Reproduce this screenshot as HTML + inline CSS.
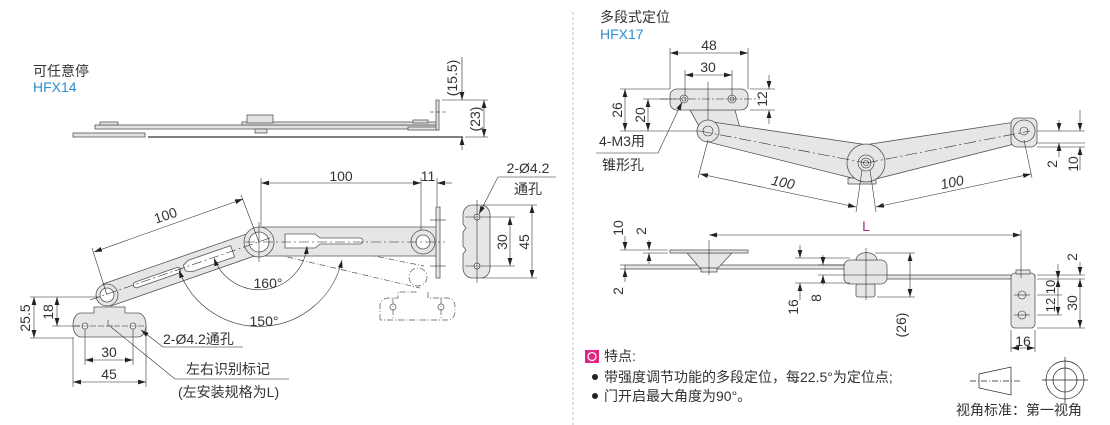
<!DOCTYPE html>
<html><head><meta charset="utf-8"><style>
html,body{margin:0;padding:0;background:#fff;}
svg{display:block;}
text{font-family:"Liberation Sans","Noto Sans CJK SC",sans-serif;fill:#333;}
</style></head><body>
<svg width="1110" height="425" viewBox="0 0 1110 425" xmlns="http://www.w3.org/2000/svg">
<defs>
<marker id="a" viewBox="0 0 10 6" refX="10" refY="3" markerWidth="8" markerHeight="5" orient="auto-start-reverse" markerUnits="userSpaceOnUse"><path d="M0,0L10,3L0,6z" fill="#222"/></marker>
</defs>
<line x1="573" y1="12" x2="573" y2="425" stroke="#aaa" stroke-width="0.7" stroke-dasharray="3,2"/>

<!-- ===== HFX14 top view ===== -->
<text x="33" y="76" font-size="14">可任意停</text>
<text x="33" y="92" font-size="14" style="fill:#2a8fd0">HFX14</text>
<g stroke="#555" stroke-width="0.8" fill="#e2e2e2">
<rect x="73" y="133" width="72" height="4"/>
<line x1="148" y1="137" x2="463" y2="137" stroke="#333" stroke-width="1.3"/>
<rect x="95" y="125" width="343" height="4"/>
<rect x="242" y="122" width="196" height="3"/>
<rect x="100" y="122" width="18" height="3"/>
<rect x="247" y="115" width="26" height="8"/>
<rect x="255" y="129" width="12" height="4"/>
<rect x="413" y="120" width="15" height="3"/>
<rect x="408" y="127" width="30" height="3"/>
<path d="M436,100 h3 v30 h-3z"/>
</g>
<g stroke="#222" stroke-width="0.6" fill="none">
<line x1="442" y1="100" x2="488" y2="100"/><line x1="465" y1="137" x2="488" y2="137"/>
<line x1="462" y1="57" x2="462" y2="100" marker-end="url(#a)"/>
<line x1="462" y1="150" x2="462" y2="137" marker-end="url(#a)"/>
<line x1="484" y1="100" x2="484" y2="137" marker-start="url(#a)" marker-end="url(#a)"/>
<line x1="430" y1="112" x2="448" y2="112" stroke-dasharray="4,2"/>
</g>
<text font-size="14" transform="translate(457,78) rotate(-90)" text-anchor="middle">(15.5)</text>
<text font-size="14" transform="translate(480,119) rotate(-90)" text-anchor="middle">(23)</text>

<!-- ===== HFX14 side view ===== -->
<g stroke="#555" stroke-width="0.7" fill="none" stroke-dasharray="6,2,1,2">
<path d="M266,252 L420,288 M270,235 L424,266"/>
<circle cx="418" cy="277" r="9"/>
<path d="M380,320 v-14 a8,8 0 0 1 8,-8 h10 v-6 h20 M428,292 v6 h20 a8,8 0 0 1 7,8 v6 a8,8 0 0 1 -8,8 h-67"/>
<line x1="393" y1="298" x2="393" y2="318"/><line x1="441" y1="298" x2="441" y2="318"/>
</g>
<circle cx="393" cy="307" r="3" fill="none" stroke="#555" stroke-width="0.7"/>
<circle cx="441" cy="307" r="3" fill="none" stroke="#555" stroke-width="0.7"/>
<g stroke="#555" stroke-width="0.8" fill="#e6e6e6">
<path d="M80,313 h14 v-6 h31 v6 h13 a8,12 0 0 1 8,12 a8,12 0 0 1 -8,12 h-57 a8,12 0 0 1 -8,-12 a8,12 0 0 1 7,-12z"/>
<path d="M259,227 H437 V256 H259z"/>
<rect x="436" y="207" width="4" height="71"/>
<path d="M103,284 L255,231 L263,253 L111,306 z"/>
<circle cx="107" cy="295" r="11"/>
<circle cx="259" cy="242" r="15"/>
<circle cx="423" cy="242" r="12"/>
</g>
<g stroke="#555" stroke-width="0.8" fill="#fff">
<circle cx="107" cy="295" r="7"/>
<circle cx="259" cy="242" r="10"/>
<circle cx="423" cy="242" r="7"/>
<circle cx="85" cy="326" r="3"/><circle cx="133" cy="326" r="3"/>
<path d="M285,234 h30 l5,4 h40 a3,3 0 0 1 0,6 h-40 l-5,4 h-30z"/>
<g transform="translate(107,295) rotate(-19.2)">
<rect x="28" y="-3" width="50" height="6" rx="3"/>
<path d="M82,-3 l6,-3 h45 v12 h-45 l-6,-3z"/>
</g>
</g>
<g stroke="#222" stroke-width="0.55" fill="none">
<line x1="90" y1="300" x2="270" y2="238" stroke-dasharray="10,3,2,3"/>
<line x1="245" y1="242" x2="445" y2="242" stroke-dasharray="10,3,2,3"/>
<line x1="259" y1="222" x2="259" y2="262"/>
<line x1="74" y1="326" x2="145" y2="326" stroke-dasharray="6,2"/>
<line x1="430" y1="220" x2="446" y2="220"/><line x1="430" y1="266" x2="446" y2="266"/>
<line x1="261" y1="178" x2="261" y2="226"/><line x1="421" y1="178" x2="421" y2="230"/><line x1="437" y1="178" x2="437" y2="206"/>
<line x1="261" y1="183" x2="421" y2="183" marker-start="url(#a)" marker-end="url(#a)"/>
<line x1="452" y1="183" x2="437" y2="183" marker-end="url(#a)"/>
<line x1="107" y1="295" x2="92" y2="248"/><line x1="259" y1="242" x2="241" y2="195"/>
<line x1="94" y1="252" x2="243" y2="199" marker-start="url(#a)" marker-end="url(#a)"/>
<path d="M214,258 A48,48 0 0 0 307,246" marker-start="url(#a)" marker-end="url(#a)"/>
<path d="M179,270 A85,85 0 0 0 342,260" marker-start="url(#a)" marker-end="url(#a)"/>
<line x1="30" y1="297" x2="100" y2="297"/><line x1="52" y1="326" x2="80" y2="326"/><line x1="30" y1="338" x2="73" y2="338"/>
<line x1="34" y1="297" x2="34" y2="338" marker-start="url(#a)" marker-end="url(#a)"/>
<line x1="57" y1="297" x2="57" y2="326" marker-start="url(#a)" marker-end="url(#a)"/>
<line x1="85" y1="329" x2="85" y2="365"/><line x1="133" y1="329" x2="133" y2="365"/>
<line x1="73" y1="337" x2="73" y2="387"/><line x1="146" y1="327" x2="146" y2="387"/>
<line x1="85" y1="360" x2="133" y2="360" marker-start="url(#a)" marker-end="url(#a)"/>
<line x1="73" y1="382" x2="146" y2="382" marker-start="url(#a)" marker-end="url(#a)"/>
<polyline points="141,330 163,347 243,347" marker-start="url(#a)"/>
<polyline points="111,327 175,379 289,379"/>
<path d="M108,320 v6 h5"/>
</g>
<text x="341" y="181" font-size="14" text-anchor="middle">100</text>
<text x="428" y="181" font-size="14" text-anchor="middle">11</text>
<text font-size="14" text-anchor="middle" transform="translate(167,220) rotate(-19)">100</text>
<text x="268" y="288" font-size="14" text-anchor="middle">160°</text>
<text x="264" y="326" font-size="14" text-anchor="middle">150°</text>
<text font-size="14" text-anchor="middle" transform="translate(30,318) rotate(-90)">25.5</text>
<text font-size="14" text-anchor="middle" transform="translate(53,312) rotate(-90)">18</text>
<text x="109" y="357" font-size="14" text-anchor="middle">30</text>
<text x="109" y="379" font-size="14" text-anchor="middle">45</text>
<text x="163" y="344" font-size="14">2-Ø4.2通孔</text>
<text x="186" y="374" font-size="14">左右识别标记</text>
<text x="178" y="397" font-size="14">(左安装规格为L)</text>

<!-- end view -->
<g stroke="#555" stroke-width="0.8" fill="#e6e6e6">
<path d="M472,205 h9 a9,10 0 0 1 9,10 v53 a9,10 0 0 1 -9,10 h-9 a9,10 0 0 1 -9,-10 v-14 l3,-4 l-3,-4 v-14 l3,-4 l-3,-4 v-9 a9,10 0 0 1 9,-10z"/>
</g>
<g stroke="#222" stroke-width="0.55" fill="none">
<circle cx="477" cy="217" r="3" fill="#fff"/><circle cx="477" cy="266" r="3" fill="#fff"/>
<line x1="477" y1="200" x2="477" y2="283"/>
<line x1="465" y1="217" x2="515" y2="217"/><line x1="465" y1="266" x2="515" y2="266"/>
<line x1="483" y1="205" x2="537" y2="205"/><line x1="483" y1="278" x2="537" y2="278"/>
<line x1="510" y1="217" x2="510" y2="266" marker-start="url(#a)" marker-end="url(#a)"/>
<line x1="532" y1="205" x2="532" y2="278" marker-start="url(#a)" marker-end="url(#a)"/>
<polyline points="479,214 498,177 556,177" marker-start="url(#a)"/>
</g>
<text x="528" y="173" font-size="14" text-anchor="middle">2-Ø4.2</text>
<text x="528" y="194" font-size="14" text-anchor="middle">通孔</text>
<text font-size="14" text-anchor="middle" transform="translate(507,242) rotate(-90)">30</text>
<text font-size="14" text-anchor="middle" transform="translate(529,242) rotate(-90)">45</text>

<!-- ===== HFX17 top ===== -->
<text x="600" y="22" font-size="14">多段式定位</text>
<text x="600" y="39" font-size="14" style="fill:#2a8fd0">HFX17</text>
<g stroke="#555" stroke-width="0.8" fill="#e6e6e6">
<path d="M690,110 l10,18 l40,0 l-5,-18z"/>
<rect x="670" y="89" width="78" height="21" rx="7"/>
<path d="M706,121 L868,145 L864,181 L704,141z"/>
<path d="M864,145 L1022,121 L1026,141 L868,181z"/>
<rect x="1011" y="118" width="26" height="29" rx="6"/>
<circle cx="708" cy="131" r="11"/>
<circle cx="1024" cy="131" r="11"/>
<rect x="848" y="178" width="28" height="6"/>
<circle cx="866" cy="163" r="19"/>
</g>
<g stroke="#222" stroke-width="0.55" fill="none">
<circle cx="684" cy="99" r="4"/><circle cx="684" cy="99" r="2"/>
<circle cx="732" cy="99" r="4"/><circle cx="732" cy="99" r="2"/>
<circle cx="708" cy="131" r="5"/><circle cx="1024" cy="131" r="4"/>
<circle cx="866" cy="163" r="8"/><circle cx="866" cy="163" r="5"/><circle cx="866" cy="163" r="2.5"/>
<line x1="660" y1="99" x2="760" y2="99" stroke-dasharray="8,2,2,2"/>
<line x1="708" y1="82" x2="708" y2="120"/>
<line x1="700" y1="131" x2="866" y2="163" stroke-dasharray="12,3,2,3"/>
<line x1="866" y1="163" x2="1030" y2="131" stroke-dasharray="12,3,2,3"/>
<line x1="670" y1="48" x2="670" y2="89"/><line x1="748" y1="48" x2="748" y2="89"/>
<line x1="685" y1="70" x2="685" y2="96"/><line x1="732" y1="70" x2="732" y2="96"/>
<line x1="670" y1="53" x2="748" y2="53" marker-start="url(#a)" marker-end="url(#a)"/>
<line x1="685" y1="75" x2="732" y2="75" marker-start="url(#a)" marker-end="url(#a)"/>
<line x1="620" y1="89" x2="670" y2="89"/><line x1="643" y1="99" x2="676" y2="99"/><line x1="620" y1="131" x2="700" y2="131"/>
<line x1="750" y1="89" x2="775" y2="89"/><line x1="750" y1="110" x2="775" y2="110"/>
<line x1="625" y1="89" x2="625" y2="131" marker-start="url(#a)" marker-end="url(#a)"/>
<line x1="648" y1="99" x2="648" y2="131" marker-start="url(#a)" marker-end="url(#a)"/>
<line x1="769" y1="75" x2="769" y2="89" marker-end="url(#a)"/>
<line x1="769" y1="124" x2="769" y2="110" marker-end="url(#a)"/>
<polyline points="682,102 658,153 596,153" marker-start="url(#a)"/>
<line x1="708" y1="140" x2="698" y2="178"/><line x1="862" y1="170" x2="856" y2="212"/>
<line x1="870" y1="170" x2="876" y2="212"/><line x1="1024" y1="140" x2="1032" y2="178"/>
<line x1="700" y1="174" x2="856" y2="207" marker-start="url(#a)" marker-end="url(#a)"/>
<line x1="876" y1="207" x2="1031" y2="174" marker-start="url(#a)" marker-end="url(#a)"/>
<line x1="1037" y1="131" x2="1085" y2="131"/><line x1="1037" y1="143" x2="1085" y2="143"/><line x1="1037" y1="147" x2="1085" y2="147"/>
<line x1="1059" y1="120" x2="1059" y2="131" marker-end="url(#a)"/>
<line x1="1059" y1="157" x2="1059" y2="143" marker-end="url(#a)"/>
<line x1="1080" y1="110" x2="1080" y2="131" marker-end="url(#a)"/>
<line x1="1080" y1="170" x2="1080" y2="147" marker-end="url(#a)"/>
</g>
<text x="709" y="50" font-size="14" text-anchor="middle">48</text>
<text x="708" y="72" font-size="14" text-anchor="middle">30</text>
<text font-size="14" text-anchor="middle" transform="translate(622,110) rotate(-90)">26</text>
<text font-size="14" text-anchor="middle" transform="translate(645,115) rotate(-90)">20</text>
<text font-size="14" text-anchor="middle" transform="translate(767,99) rotate(-90)">12</text>
<text x="599" y="146" font-size="14">4-M3用</text>
<text x="602" y="170" font-size="14">锥形孔</text>
<text font-size="14" font-style="italic" text-anchor="middle" transform="translate(782,187) rotate(12)">100</text>
<text font-size="14" font-style="italic" text-anchor="middle" transform="translate(953,187) rotate(-12)">100</text>
<text font-size="14" text-anchor="middle" transform="translate(1057,164) rotate(-90)">2</text>
<text font-size="14" text-anchor="middle" transform="translate(1078,164) rotate(-90)">10</text>

<!-- ===== HFX17 side ===== -->
<g stroke="#555" stroke-width="0.8" fill="#e6e6e6">
<rect x="625" y="265" width="222" height="4"/>
<path d="M687,253 L700,268 L718,268 L732,253z"/>
<rect x="701" y="268" width="16" height="4"/>
<rect x="670" y="250" width="78" height="3"/>
<rect x="886" y="275" width="149" height="4"/>
<rect x="1011" y="273" width="24" height="55" rx="4"/>
<rect x="1016" y="270" width="14" height="4"/>
<rect x="856" y="284" width="19" height="13" rx="2"/>
<rect x="844" y="260" width="43" height="24" rx="6"/>
<path d="M856,260 a10,7 0 0 1 21,0z"/>
</g>
<g stroke="#222" stroke-width="0.55" fill="none">
<line x1="844" y1="275" x2="887" y2="275"/>
<circle cx="1022" cy="295" r="4"/><circle cx="1022" cy="315" r="4"/>
<line x1="1014" y1="295" x2="1030" y2="295"/><line x1="1014" y1="315" x2="1030" y2="315"/>
<line x1="709" y1="240" x2="709" y2="275"/><line x1="866" y1="248" x2="866" y2="300"/>
<line x1="1021" y1="230" x2="1021" y2="278"/>
<line x1="709" y1="235" x2="1021" y2="235" marker-start="url(#a)" marker-end="url(#a)"/>
<line x1="620" y1="250" x2="668" y2="250"/><line x1="643" y1="253" x2="668" y2="253"/>
<line x1="620" y1="265" x2="625" y2="265"/><line x1="620" y1="269" x2="625" y2="269"/>
<line x1="625" y1="236" x2="625" y2="250" marker-end="url(#a)"/>
<line x1="625" y1="282" x2="625" y2="269" marker-end="url(#a)"/>
<line x1="649" y1="240" x2="649" y2="250" marker-end="url(#a)"/>
<line x1="649" y1="264" x2="649" y2="253" marker-end="url(#a)"/>
<line x1="795" y1="258" x2="850" y2="258"/><line x1="818" y1="265" x2="845" y2="265"/><line x1="818" y1="275" x2="845" y2="275"/><line x1="795" y1="283" x2="850" y2="283"/>
<line x1="800" y1="245" x2="800" y2="258" marker-end="url(#a)"/>
<line x1="800" y1="300" x2="800" y2="283" marker-end="url(#a)"/>
<line x1="823" y1="255" x2="823" y2="265" marker-end="url(#a)"/>
<line x1="823" y1="285" x2="823" y2="275" marker-end="url(#a)"/>
<line x1="875" y1="253" x2="915" y2="253"/><line x1="877" y1="297" x2="915" y2="297"/>
<line x1="910" y1="253" x2="910" y2="297" marker-start="url(#a)" marker-end="url(#a)"/>
<line x1="1037" y1="275" x2="1085" y2="275"/><line x1="1037" y1="279" x2="1085" y2="279"/>
<line x1="1037" y1="295" x2="1062" y2="295"/><line x1="1037" y1="315" x2="1062" y2="315"/><line x1="1037" y1="328" x2="1085" y2="328"/>
<line x1="1058" y1="264" x2="1058" y2="279" marker-end="url(#a)"/>
<line x1="1058" y1="279" x2="1058" y2="315" marker-start="url(#a)" marker-end="url(#a)"/>
<line x1="1080" y1="262" x2="1080" y2="275" marker-end="url(#a)"/>
<line x1="1080" y1="279" x2="1080" y2="328" marker-start="url(#a)" marker-end="url(#a)"/>
<line x1="1011" y1="330" x2="1011" y2="352"/><line x1="1035" y1="330" x2="1035" y2="352"/>
<line x1="1011" y1="348" x2="1035" y2="348" marker-start="url(#a)" marker-end="url(#a)"/>
</g>
<text x="866" y="231" font-size="14" text-anchor="middle" style="fill:#a0307a">L</text>
<text font-size="14" text-anchor="middle" transform="translate(623,228) rotate(-90)">10</text>
<text font-size="14" text-anchor="middle" transform="translate(646,231) rotate(-90)">2</text>
<text font-size="14" text-anchor="middle" transform="translate(623,291) rotate(-90)">2</text>
<text font-size="14" text-anchor="middle" transform="translate(798,307) rotate(-90)">16</text>
<text font-size="14" text-anchor="middle" transform="translate(821,298) rotate(-90)">8</text>
<text font-size="14" text-anchor="middle" transform="translate(906,325) rotate(-90)">(26)</text>
<text font-size="14" text-anchor="middle" transform="translate(1077,257) rotate(-90)">2</text>
<text font-size="13" text-anchor="middle" transform="translate(1055,287) rotate(-90)">10</text>
<text font-size="13" text-anchor="middle" transform="translate(1055,305) rotate(-90)">12</text>
<text font-size="14" text-anchor="middle" transform="translate(1077,303) rotate(-90)">30</text>
<text x="1023" y="346" font-size="14" text-anchor="middle">16</text>

<rect x="585" y="350" width="14" height="13" fill="#e0267f"/>
<circle cx="592" cy="356.5" r="4" fill="none" stroke="#fff" stroke-width="1.2"/>
<text x="604" y="361" font-size="14">特点:</text>
<circle cx="595" cy="377" r="3" fill="#222"/>
<text x="604" y="382" font-size="14">带强度调节功能的多段定位，每22.5°为定位点;</text>
<circle cx="595" cy="396" r="3" fill="#222"/>
<text x="604" y="401" font-size="14">门开启最大角度为90°。</text>

<g stroke="#222" stroke-width="0.7" fill="none">
<path d="M979,374 L1011,367 L1011,395 L979,388z"/>
<line x1="970" y1="381" x2="1020" y2="381" stroke-dasharray="6,2,1,2"/>
<circle cx="1065" cy="380" r="19"/><circle cx="1065" cy="380" r="12"/>
<line x1="1042" y1="380" x2="1088" y2="380"/><line x1="1065" y1="357" x2="1065" y2="403"/>
</g>
<text x="956" y="415" font-size="14">视角标准：第一视角</text>
</svg>
</body></html>
